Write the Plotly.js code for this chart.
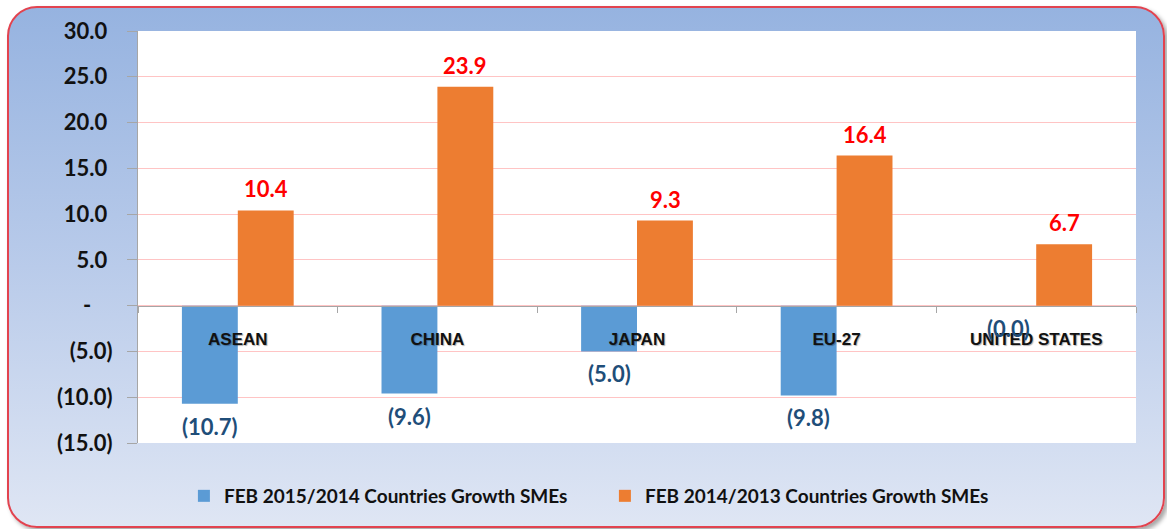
<!DOCTYPE html>
<html>
<head>
<meta charset="utf-8">
<script src="https://cdn.plot.ly/plotly-3.0.1.min.js"></script>
<style>
  html, body { margin: 0; padding: 0; background: #ffffff; }
  #frame {
    position: absolute; left: 7px; top: 6px; width: 1154px; height: 518px;
    border: 2px solid #e2434f; border-radius: 30px;
    background: linear-gradient(to bottom, #96b3e0 0%, #b9cbea 50%, #dfe6f4 100%);
    box-shadow: 3px 3px 4px rgba(0,0,0,0.35);
  }
  #chart { position: absolute; left: 0; top: 0; width: 1167px; height: 529px; }
</style>
</head>
<body>
<div id="frame"></div>
<div id="chart"></div>
<script>
// ---- data ----
const categories = ["ASEAN", "CHINA", "JAPAN", "EU-27", "UNITED STATES"];
const growth2015 = [-10.7, -9.6, -5.0, -9.8, -0.02];
const growth2014 = [10.4, 23.9, 9.3, 16.4, 6.7];
const seriesNames = ["FEB 2015/2014 Countries Growth SMEs", "FEB 2014/2013 Countries Growth SMEs"];
const yTickVals = [30, 25, 20, 15, 10, 5, 0, -5, -10, -15];
const yTickText = ["30.0\u00a0", "25.0\u00a0", "20.0\u00a0", "15.0\u00a0", "10.0\u00a0", "5.0\u00a0", "-\u00a0\u00a0\u00a0\u00a0", "(5.0)", "(10.0)", "(15.0)"];

function fmt(v) {
  return v < 0 ? "(" + Math.abs(v).toFixed(1) + ")" : v.toFixed(1);
}

const baseFont = "Lato, 'Noto Sans', sans-serif";
const seriesColors = ["#5b9bd5", "#ed7d31"];
const labelColors = ["#1f4e79", "#ff0000"];
const series = [growth2015, growth2014];

const traces = series.map((vals, i) => ({
  type: "bar", x: categories, y: vals, name: seriesNames[i],
  marker: { color: seriesColors[i] }, hoverinfo: "skip"
}));

// value labels as annotations (Excel-like spacing from bar ends)
const annotations = [];
series.forEach((vals, i) => {
  vals.forEach((v, j) => {
    annotations.push({
      x: categories[j], y: v, xref: "x", yref: "y",
      text: fmt(v), showarrow: false,
      xshift: i === 0 ? -28 : 28,
      yanchor: v < 0 ? "top" : "bottom",
      yshift: v < 0 ? -7 : 6,
      font: { family: baseFont, size: 22, color: labelColors[i], weight: "bold" }
    });
  });
});

const layout = {
  width: 1167, height: 529,
  margin: { l: 138, r: 31, t: 31, b: 86 },
  paper_bgcolor: "rgba(0,0,0,0)",
  plot_bgcolor: "#ffffff",
  barmode: "group", bargap: 0.44, bargroupgap: 0,
  showlegend: true,
  legend: {
    orientation: "h", x: 0.046, xanchor: "left", y: -0.1286, yanchor: "middle",
    entrywidth: 376, entrywidthmode: "pixels",
    font: { family: baseFont, size: 19, color: "#111111", weight: "bold" },
    bgcolor: "rgba(0,0,0,0)", traceorder: "normal"
  },
  annotations: annotations,
  xaxis: {
    type: "category", anchor: "free", position: 1/3,
    showline: true, linecolor: "#a6a6a6", linewidth: 1,
    ticks: "outside", tickson: "boundaries", ticklen: 6, tickcolor: "#a6a6a6",
    ticklabelstandoff: 18,
    tickfont: { family: "'Liberation Sans', Arial, sans-serif", size: 17, color: "#111111", weight: "bold",
                shadow: "1px 1px 1px rgba(0,0,0,0.3)" },
    showgrid: false, zeroline: false, fixedrange: true
  },
  yaxis: {
    range: [-15, 30], tickmode: "array", tickvals: yTickVals, ticktext: yTickText,
    showline: true, linecolor: "#a6a6a6", linewidth: 1,
    ticks: "outside", ticklen: 10, tickcolor: "#a6a6a6",
    ticklabelstandoff: 10,
    tickfont: { family: baseFont, size: 22, color: "#111111", weight: "bold" },
    showgrid: true, gridcolor: "#ffc4c4", gridwidth: 1,
    zeroline: false, fixedrange: true
  }
};

Plotly.newPlot("chart", traces, layout, { displayModeBar: false, staticPlot: true });
</script>
</body>
</html>
